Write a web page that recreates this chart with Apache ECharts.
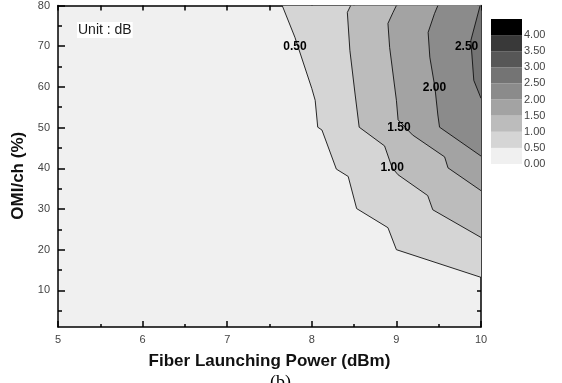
<!DOCTYPE html>
<html>
<head>
<meta charset="utf-8">
<script src="https://cdn.jsdelivr.net/npm/echarts@6/dist/echarts.min.js"></script>
<style>
html,body{margin:0;padding:0;background:#fff;}
#chart{width:562px;height:383px;}
</style>
</head>
<body>
<div id="chart"></div>
<script>
// ---- data ----
const xTitle = 'Fiber Launching Power (dBm)';
const yTitle = 'OMI/ch (%)';
const yMajorTicks = [10, 20, 30, 40, 50, 60, 70, 80];
const yMinorTicks = [5, 15, 25, 35, 45, 55, 65, 75];
const yRightTicks = [5, 10, 15, 20, 25, 30, 35, 40, 45, 50, 55, 60, 65, 70, 75, 80];
const levelValues = [0.5, 1.0, 1.5, 2.0, 2.5];
// contour lines [power dBm, OMI %], running from the top edge to the right edge
const contour050 = [[7.65,80],[7.80,72.2],[8.00,59.6],[8.04,56.7],[8.07,50.1],[8.12,49.4],[8.29,39.8],[8.43,38.0],[8.53,30.1],[8.90,25.4],[9.00,20.0],[10,13.2]];
const contour100 = [[8.46,80],[8.42,78.3],[8.45,69.0],[8.51,58.5],[8.56,50.1],[8.86,45.5],[8.95,40.1],[9.02,38.4],[9.37,33.3],[9.43,29.8],[10,23.0]];
const contour150 = [[9.00,80],[8.96,78.3],[8.90,75.6],[8.92,69.7],[9.00,56.7],[9.02,51.9],[9.19,48.2],[9.57,42.8],[9.61,40.1],[10,34.5]];
const contour200 = [[9.49,80],[9.45,78.0],[9.375,73.4],[9.395,67.3],[9.455,59.9],[9.49,53.1],[9.51,50.1],[10,43.0]];
const contour250 = [[9.99,80],[9.88,71.4],[9.915,61.6],[10,57.2]];
const contourLabels = [[7.80,70.0,'0.50'],[8.95,40.2,'1.00'],[9.03,50.0,'1.50'],[9.45,59.9,'2.00'],[9.83,70.0,'2.50']];
// colour scale bins (lower bound of each 0.5 dB band)
const scaleBins = [0, 0.5, 1.0, 1.5, 2.0, 2.5, 3.0, 3.5, 4.0];
const scaleLabels = [0, 0.5, 1.0, 1.5, 2.0, 2.5, 3.0, 3.5, 4.0];
const scaleColors = ['#f0f0f0','#d5d5d5','#bcbcbc','#a3a3a3','#8b8b8b','#747474','#575757','#393939','#000000'];

const contours = [contour050, contour100, contour150, contour200, contour250];
const FONT = "'Liberation Sans', Arial, sans-serif";

const chart = echarts.init(document.getElementById('chart'), null, {renderer: 'canvas'});

const option = {
  animation: false,
  backgroundColor: '#ffffff',
  title: [
    {text: 'Unit : dB', left: 77, top: 22, backgroundColor: '#ffffff', padding: [1, 1, 1, 1],
     textStyle: {fontFamily: FONT, fontSize: 14, fontWeight: 'normal', color: '#1a1a1a'}},
    {text: '(b)', left: 270, top: 374, padding: 0,
     textStyle: {fontFamily: "'Liberation Serif', 'Times New Roman', serif", fontSize: 18, fontWeight: 'normal', color: '#000'}}
  ],
  grid: [
    {left: 58, top: 5, width: 423, height: 322, show: true, backgroundColor: '#f0f0f0', borderWidth: 0},
    {left: 491, top: 19, width: 31, height: 145, show: false}
  ],
  xAxis: [
    {type: 'value', gridIndex: 0, position: 'bottom', min: 5, max: 10, interval: 1,
     name: xTitle, nameLocation: 'middle', nameGap: 26,
     nameTextStyle: {fontFamily: FONT, fontSize: 17, fontWeight: 'bold', color: '#111'},
     axisLine: {show: true, onZero: false, lineStyle: {color: '#000', width: 1.5}},
     axisTick: {show: true, inside: true, length: 6, lineStyle: {color: '#000', width: 1.5}},
     minorTick: {show: true, splitNumber: 2, length: 3, lineStyle: {color: '#000', width: 1.5}},
     axisLabel: {fontFamily: FONT, fontSize: 11, color: '#444', margin: 7},
     splitLine: {show: false}, minorSplitLine: {show: false}},
    {type: 'value', gridIndex: 0, position: 'top', min: 5, max: 10, interval: 0.5,
     axisLine: {show: true, onZero: false, lineStyle: {color: '#000', width: 1.5}},
     axisTick: {show: true, inside: true, length: 5, lineStyle: {color: '#000', width: 1.5}},
     axisLabel: {show: false}, splitLine: {show: false}},
    {type: 'value', gridIndex: 1, min: 0, max: 1, show: false}
  ],
  yAxis: [
    {type: 'value', gridIndex: 0, position: 'left', min: 1, max: 80,
     name: yTitle, nameLocation: 'middle', nameGap: 29,
     nameTextStyle: {fontFamily: FONT, fontSize: 17, fontWeight: 'bold', color: '#111', padding: [0, 19, 0, 0]},
     axisLine: {show: true, onZero: false, lineStyle: {color: '#000', width: 1.5}},
     axisTick: {show: true, inside: true, length: 7, customValues: yMajorTicks, lineStyle: {color: '#000', width: 1.5}},
     axisLabel: {fontFamily: FONT, fontSize: 11, color: '#444', margin: 8, customValues: yMajorTicks},
     splitLine: {show: false}},
    {type: 'value', gridIndex: 0, position: 'left', offset: 0, min: 1, max: 80,
     axisLine: {show: false},
     axisTick: {show: true, inside: true, length: 4, customValues: yMinorTicks, lineStyle: {color: '#000', width: 1.5}},
     axisLabel: {show: false}, splitLine: {show: false}},
    {type: 'value', gridIndex: 0, position: 'right', offset: 0, min: 1, max: 80,
     axisLine: {show: true, onZero: false, lineStyle: {color: '#000', width: 1.5}},
     axisTick: {show: true, inside: true, length: 4, customValues: yRightTicks, lineStyle: {color: '#000', width: 1.5}},
     axisLabel: {show: false}, splitLine: {show: false}},
    {type: 'value', gridIndex: 1, position: 'right', min: 0, max: 4.5,
     axisLine: {show: false}, axisTick: {show: false}, splitLine: {show: false},
     axisLabel: {fontFamily: FONT, fontSize: 11, color: '#444', margin: 2, customValues: scaleLabels,
                 padding: [3, 0, 0, 0], formatter: v => Number(v).toFixed(2)}}
  ],
  series: [
    {
      type: 'custom', name: 'bands', xAxisIndex: 0, yAxisIndex: 0, clip: true,
      data: levelValues.map((v, i) => [i, v]),
      encode: {x: -1, y: -1},
      renderItem: function (params, api) {
        const i = params.dataIndex;
        const pts = contours[i].map(p => api.coord(p));
        const corner = api.coord([10, 80]);
        const poly = pts.concat([corner]);
        return {
          type: 'group',
          children: [
            {type: 'polygon', shape: {points: poly}, style: {fill: scaleColors[i + 1], stroke: null}},
            {type: 'polyline', shape: {points: pts}, style: {stroke: '#111', lineWidth: 0.9, fill: null}}
          ]
        };
      }
    },
    {
      type: 'custom', name: 'labels', xAxisIndex: 0, yAxisIndex: 0, clip: false,
      data: contourLabels.map(l => [l[0], l[1]]),
      encode: {x: 0, y: 1},
      renderItem: function (params, api) {
        const p = api.coord([api.value(0), api.value(1)]);
        return {
          type: 'text', x: p[0], y: p[1],
          style: {text: contourLabels[params.dataIndex][2], fontFamily: FONT, fontSize: 12, fontWeight: 'bold',
                  fill: '#000', align: 'center', verticalAlign: 'middle'}
        };
      }
    },
    {
      type: 'custom', name: 'scale', xAxisIndex: 2, yAxisIndex: 3, clip: false,
      data: scaleBins.map(v => [0, v]),
      encode: {x: 0, y: 1},
      renderItem: function (params, api) {
        const v = api.value(1);
        const p0 = api.coord([0, v]);
        const p1 = api.coord([1, v + 0.5]);
        return {
          type: 'rect',
          shape: {x: p0[0], y: p1[1], width: p1[0] - p0[0], height: p0[1] - p1[1]},
          style: {fill: scaleColors[params.dataIndex]}
        };
      }
    }
  ]
};
chart.setOption(option);
</script>
</body>
</html>
